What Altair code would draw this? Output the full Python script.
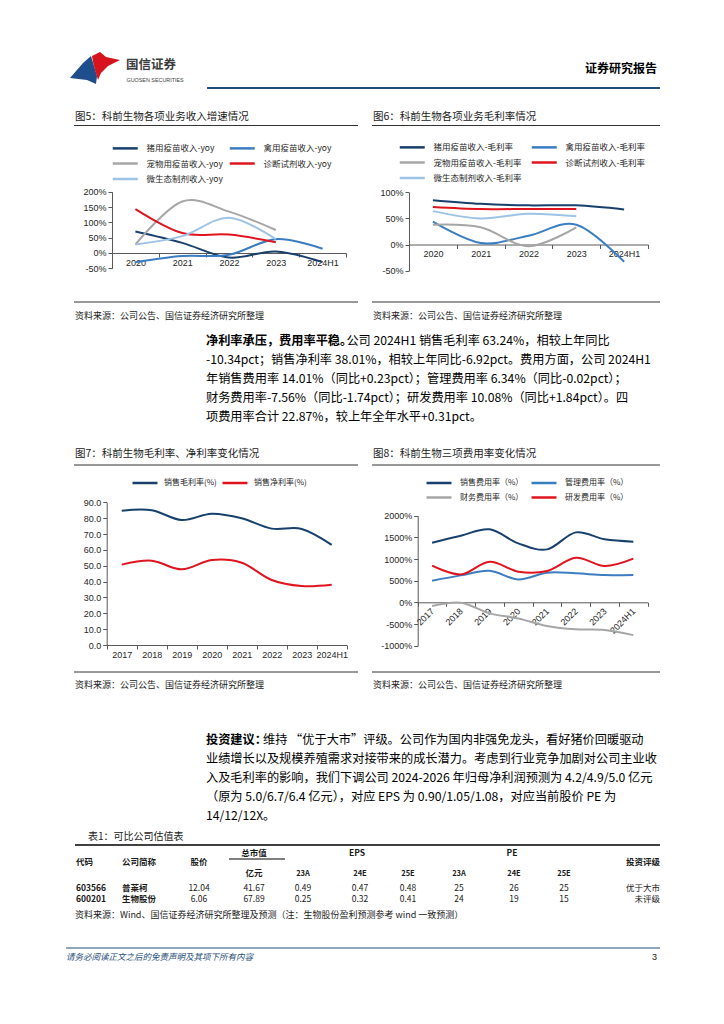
import altair as alt
import pandas as pd

# ================= DATA =================
years5 = ["2020", "2021", "2022", "2023", "2024H1"]
fig5_names = ["猪用疫苗收入-yoy", "禽用疫苗收入-yoy", "宠物用疫苗收入-yoy", "诊断试剂收入-yoy", "微生态制剂收入-yoy"]
fig5_pig = [70, 33, -15, 5, -30]
fig5_poultry = [-30, -10, -6, 45, 14]
fig5_pet = [28, 168, 135, 75]
fig5_diag = [143, 65, 60, 35]
fig5_micro = [28, 55, 115, 45]

fig6_names = ["猪用疫苗收入-毛利率", "禽用疫苗收入-毛利率", "宠物用疫苗收入-毛利率", "诊断试剂收入-毛利率", "微生态制剂收入-毛利率"]
fig6_pig = [85, 78, 75, 75, 67]
fig6_poultry = [44, 3, 17, 38, -33]
fig6_pet = [38, 33, -3, 33]
fig6_diag = [72, 68, 68, 68]
fig6_micro = [64, 50, 59, 54]

years8 = ["2017", "2018", "2019", "2020", "2021", "2022", "2023", "2024H1"]
fig7_names = ["销售毛利率(%)", "销售净利率(%)"]
fig7_gross = [84.7, 85.0, 78.8, 82.8, 79.9, 73.4, 73.2, 63.2]
fig7_net = [50.7, 53.2, 47.7, 53.6, 51.9, 41.0, 37.2, 38.0]

fig8_names = ["销售费用率（%）", "管理费用率（%）", "财务费用率（%）", "研发费用率（%）"]
fig8_sales = [1377, 1538, 1685, 1362, 1223, 1615, 1454, 1401]
fig8_admin = [500, 623, 730, 530, 685, 670, 630, 634]
fig8_fin = [-85, -8, -254, -370, -546, -623, -638, -756]
fig8_rd = [846, 646, 938, 708, 723, 1030, 838, 1008]

tbl_code = ["603566", "600201"]
tbl_name = ["普莱柯", "生物股份"]
tbl_price = [12.04, 6.06]
tbl_mcap = [41.67, 67.89]
tbl_eps_23a = [0.49, 0.25]
tbl_eps_24e = [0.47, 0.32]
tbl_eps_25e = [0.48, 0.41]
tbl_pe_23a = [25, 24]
tbl_pe_24e = [26, 19]
tbl_pe_25e = [25, 15]
tbl_rating = ["优于大市", "未评级"]
tbl_sub = ["23A", "24E", "25E"]

p1_lead = "净利率承压，费用率平稳。"
p1_lines = [
    "公司 2024H1 销售毛利率 63.24%，相较上年同比",
    "-10.34pct；销售净利率 38.01%，相较上年同比-6.92pct。费用方面，公司 2024H1",
    "年销售费用率 14.01%（同比+0.23pct）；管理费用率 6.34%（同比-0.02pct）；",
    "财务费用率-7.56%（同比-1.74pct）；研发费用率 10.08%（同比+1.84pct）。四",
    "项费用率合计 22.87%，较上年全年水平+0.31pct。",
]
p2_lead = "投资建议："
p2_lines = [
    "维持 “优于大市”评级。公司作为国内非强免龙头，看好猪价回暖驱动",
    "业绩增长以及规模养殖需求对接带来的成长潜力。考虑到行业竞争加剧对公司主业收",
    "入及毛利率的影响，我们下调公司 2024-2026 年归母净利润预测为 4.2/4.9/5.0 亿元",
    "（原为 5.0/6.7/6.4 亿元），对应 EPS 为 0.90/1.05/1.08，对应当前股价 PE 为",
    "14/12/12X。",
]
src_text = "资料来源：公司公告、国信证券经济研究所整理"
tbl_src = "资料来源：Wind、国信证券经济研究所整理及预测（注：生物股份盈利预测参考 wind 一致预测）"
footer_text = "请务必阅读正文之后的免责声明及其项下所有内容"

# ================= LAYOUT =================
M = 8
W, H = 708, 1008
def px(v):
    return v - M

XS = alt.Scale(domain=[M, M + W], range=[0, W])
YS = alt.Scale(domain=[M, M + H], range=[0, H])
CJK = "Noto Sans CJK SC"
LAT = "Liberation Sans"
INK = "#1a1a1a"
NAVY = "#1F4E79"
AX = "#595959"
LBL = "#262626"
C_NAVY = "#17406C"
C_BLUE = "#3A7DC0"
C_GRAY = "#A6A6A6"
C_RED = "#E0141E"
C_LBLUE = "#9DC3E6"

texts = []
def T(t, x, y, s, c=INK, k="n"):
    texts.append({"t": t, "x": x, "y": y, "s": s, "c": c, "k": k})

rules = []
def R(x1, x2, y1, y2=None, c="#333333", w=1.0):
    rules.append({"x1": x1, "x2": x2, "y1": y1, "y2": y1 if y2 is None else y2, "c": c, "w": w})

# header
T("国信证券", 126, 65, 12.5, "#3c3c3c", "b")
T("GUOSEN SECURITIES", 126.5, 80, 5.4, "#3c3c3c", "lat")
T("证券研究报告", 657, 69, 12, "#000000", "br")
R(207, 660, 88, c=NAVY, w=2)

# figure titles / sources
T("图5：科前生物各项业务收入增速情况", 75, 117, 10.5)
T("图6：科前生物各项业务毛利率情况", 373, 117, 10.5)
R(74, 358, 125.5); R(372, 660, 125.5)
R(74, 358, 302); R(372, 660, 302)
T(src_text, 75, 316, 9)
T(src_text, 373, 316, 9)

T("图7：科前生物毛利率、净利率变化情况", 75, 454, 10.5)
T("图8：科前生物三项费用率变化情况", 373, 454, 10.5)
R(74, 358, 465); R(372, 660, 465)
R(74, 358, 672); R(372, 660, 672)
T(src_text, 75, 685, 9)
T(src_text, 373, 685, 9)

# paragraphs
PFS = 12.2
P1_Y = [341, 360, 379, 398, 417]
P2_Y = [740, 759, 778, 797, 816]
PX0 = 206
T(p1_lead, PX0, P1_Y[0], PFS, "#000000", "b")
for i, (line, y) in enumerate(zip(p1_lines, P1_Y)):
    T(line, PX0 + (len(p1_lead) * PFS - 6 if i == 0 else 0), y, PFS, "#000000", "n")
T(p2_lead, PX0, P2_Y[0], PFS, "#000000", "b")
for i, (line, y) in enumerate(zip(p2_lines, P2_Y)):
    T(line, PX0 + (len(p2_lead) * PFS - 4 if i == 0 else 0), y, PFS, "#000000", "n")

# table
T("表1：可比公司估值表", 88, 837, 10)
R(75, 660, 845, c="#000000", w=1.5)
TF = 8.5
T("代码", 76, 862, TF, k="b")
T("公司简称", 122, 862, TF, k="b")
T("股价", 199, 862, TF, k="bc")
T("总市值", 254, 853, TF, k="bc")
R(229, 285, 859, c="#000000", w=1)
T("亿元", 254, 873, TF, k="bc")
T("EPS", 357, 853, TF, k="bc")
T("PE", 512, 853, TF, k="bc")
T("投资评级", 660, 862, TF, k="br")
col_eps = [303, 360, 408]
col_pe = [459, 514, 564]
for s, x in zip(tbl_sub, col_eps):
    T(s, x, 874, 7.5, k="bc")
for s, x in zip(tbl_sub, col_pe):
    T(s, x, 874, 7.5, k="bc")
ROW_Y = [888, 899]
for i, y in enumerate(ROW_Y):
    T(tbl_code[i], 76, y, TF, k="b")
    T(tbl_name[i], 122, y, TF, k="b")
    T(f"{tbl_price[i]:.2f}", 199, y, TF, k="nc")
    T(f"{tbl_mcap[i]:.2f}", 254, y, TF, k="nc")
    for v, x in zip([tbl_eps_23a[i], tbl_eps_24e[i], tbl_eps_25e[i]], col_eps):
        T(f"{v:.2f}", x, y, TF, k="nc")
    for v, x in zip([tbl_pe_23a[i], tbl_pe_24e[i], tbl_pe_25e[i]], col_pe):
        T(f"{v}", x, y, TF, k="nc")
    T(tbl_rating[i], 660, y, TF, k="nr")
T(tbl_src, 75, 915, 9)

# footer
R(66, 660, 948, c=NAVY, w=1)
T(footer_text, 66, 957, 8.5, NAVY, "i")
T("3", 657, 957, 9, INK, "latr")

text_df = pd.DataFrame(texts)
rule_df = pd.DataFrame(rules)

STYLES = {
    "n": ("left", "normal", "normal", CJK),
    "b": ("left", "bold", "normal", CJK),
    "nc": ("center", "normal", "normal", CJK),
    "bc": ("center", "bold", "normal", CJK),
    "nr": ("right", "normal", "normal", CJK),
    "br": ("right", "bold", "normal", CJK),
    "i": ("left", "normal", "italic", CJK),
    "lat": ("left", "normal", "normal", LAT),
    "latr": ("right", "normal", "normal", LAT),
}

layers = []
layers.append(
    alt.Chart(rule_df).mark_rule().encode(
        x=alt.X("x1:Q", scale=XS, axis=None),
        x2="x2:Q",
        y=alt.Y("y1:Q", scale=YS, axis=None),
        y2="y2:Q",
        color=alt.Color("c:N", scale=None, legend=None),
        strokeWidth=alt.StrokeWidth("w:Q", scale=None, legend=None),
    )
)
for k, (align, weight, style, font) in STYLES.items():
    sub = text_df[text_df["k"] == k]
    if sub.empty:
        continue
    layers.append(
        alt.Chart(sub).mark_text(align=align, baseline="middle", fontWeight=weight, fontStyle=style, font=font).encode(
            x=alt.X("x:Q", scale=XS, axis=None),
            y=alt.Y("y:Q", scale=YS, axis=None),
            text="t:N",
            size=alt.Size("s:Q", scale=None, legend=None),
            color=alt.Color("c:N", scale=None, legend=None),
        )
    )

# logo (decorative shapes)
LCX, LCY, LU = 95, 68, 25.0
red_poly = [(92, 56), (100, 52), (106, 57), (120, 60), (108, 66), (101, 73), (98, 80), (95, 70), (93, 62)]
blue_poly = [(70, 78), (83, 63), (91, 56), (94, 66), (97, 76), (96, 84), (87, 80)]
def poly_path(pts):
    return "M" + " L".join(f"{(x - LCX) / LU:.3f},{(y - LCY) / LU:.3f}" for x, y in pts) + " Z"
logo_df = pd.DataFrame({"x": [LCX], "y": [LCY]})
for pts, col in [(blue_poly, "#1F4E8C"), (red_poly, "#D7141E")]:
    layers.append(
        alt.Chart(logo_df).mark_point(shape=poly_path(pts), size=(2 * LU) ** 2, filled=True, opacity=1, strokeWidth=0, color=col).encode(
            x=alt.X("x:Q", scale=XS, axis=None),
            y=alt.Y("y:Q", scale=YS, axis=None),
        )
    )

STROKE_PATH = "M-5,0L5,0"

def long_df(cats, names, series):
    rows = []
    for n, vals in zip(names, series):
        for c, v in zip(cats, vals):
            rows.append({"cat": c, "series": n, "v": v})
    return pd.DataFrame(rows)

def line_chart(cats, names, series, colors, xr, yr, ydom, yvals, zero_y, leg_x, leg_y,
               ylabel_expr=None, ylabel_fmt=None, leg_font=8.5, col_pad=3, row_pad=4.5, lab_off=17, rotate=False):
    df = long_df(cats, names, series)
    xa = dict(orient="bottom", offset=px(zero_y) - H, title=None, grid=False, tickBand="extent",
              domainColor=AX, tickColor=AX, tickSize=4, labelFont=LAT, labelFontSize=9,
              labelColor=LBL, labelPadding=1)
    if rotate:
        xa.update(labelAngle=315, labelAlign="right", labelBaseline="middle", labelPadding=3)
    else:
        xa.update(labelAngle=0)
    ya = dict(orient="left", offset=-px(xr[0]), values=yvals, title=None, grid=False,
              domainColor=AX, tickColor=AX, tickSize=4, labelFont=LAT, labelFontSize=9,
              labelColor=LBL, labelPadding=2)
    if ylabel_expr:
        ya["labelExpr"] = ylabel_expr
    if ylabel_fmt:
        ya["format"] = ylabel_fmt
    fs = leg_font
    return alt.Chart(df).mark_line(interpolate="cardinal", strokeWidth=2).encode(
        x=alt.X("cat:O", scale=alt.Scale(type="band", domain=cats, range=[px(xr[0]), px(xr[1])],
                                         paddingInner=0, paddingOuter=0), axis=alt.Axis(**xa)),
        y=alt.Y("v:Q", scale=alt.Scale(domain=ydom, range=[px(yr[0]), px(yr[1])], nice=False, zero=False),
                axis=alt.Axis(**ya)),
        color=alt.Color("series:N", scale=alt.Scale(domain=names, range=colors),
                        legend=alt.Legend(orient="none", legendX=px(leg_x), legendY=px(leg_y) - fs / 2,
                                          columns=2, direction="horizontal", title=None,
                                          symbolType=STROKE_PATH, symbolSize=25,
                                          symbolStrokeWidth=2.5, symbolOffset=8, labelOffset=lab_off,
                                          labelFont=CJK, labelFontSize=fs, labelColor=LBL,
                                          rowPadding=row_pad, columnPadding=col_pad, padding=0, labelLimit=300)),
    )

c5 = line_chart(years5, fig5_names, [fig5_pig, fig5_poultry, fig5_pet, fig5_diag, fig5_micro],
                [C_NAVY, C_BLUE, C_GRAY, C_RED, C_LBLUE],
                xr=(112, 346), yr=(268.3, 191.7), ydom=[-50, 200], yvals=[-50, 0, 50, 100, 150, 200],
                zero_y=253, leg_x=113, leg_y=148, ylabel_expr="datum.value + '%'", col_pad=1)
c6 = line_chart(years5, fig6_names, [fig6_pig, fig6_poultry, fig6_pet, fig6_diag, fig6_micro],
                [C_NAVY, C_BLUE, C_GRAY, C_RED, C_LBLUE],
                xr=(409, 648), yr=(270.7, 192.3), ydom=[-50, 100], yvals=[-50, 0, 50, 100],
                zero_y=244.5, leg_x=400, leg_y=147, ylabel_expr="datum.value + '%'", col_pad=4)
c7 = line_chart(years8, fig7_names, [fig7_gross, fig7_net], [C_NAVY, C_RED],
                xr=(106.7, 346.7), yr=(645, 502.3), ydom=[0, 90], yvals=list(range(0, 100, 10)),
                zero_y=645, leg_x=133, leg_y=483, ylabel_fmt=".1f", leg_font=8, col_pad=0, lab_off=15)
c8 = line_chart(years8, fig8_names, [fig8_sales, fig8_admin, fig8_fin, fig8_rd], [C_NAVY, C_BLUE, C_GRAY, C_RED],
                xr=(417.7, 647.7), yr=(645.7, 515.7), ydom=[-1000, 2000], yvals=list(range(-1000, 2001, 500)),
                zero_y=602.3, leg_x=427, leg_y=483, ylabel_expr="datum.value + '%'", leg_font=8, row_pad=4.5,
                col_pad=2, rotate=True)
layers += [c5, c6, c7, c8]

chart = alt.layer(*layers).properties(
    width=W, height=H, autosize=alt.AutoSizeParams(type="none"), padding=0
).resolve_scale(
    x="independent", y="independent", color="independent"
).resolve_axis(
    x="independent", y="independent"
).resolve_legend(
    color="independent"
).configure_view(stroke=None)

chart.save("out.html", embed_options={"renderer": "svg", "actions": False})
